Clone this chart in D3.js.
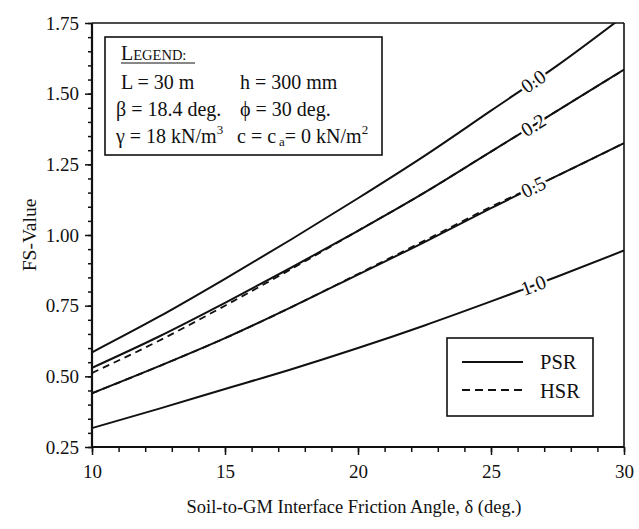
<!DOCTYPE html>
<html>
<head>
<meta charset="utf-8">
<script src="https://cdn.jsdelivr.net/npm/d3@7"></script>
<style>
  body { margin: 0; background: #fff; }
  svg { display: block; font-family: "Liberation Serif", "Times New Roman", serif; }
</style>
</head>
<body>
<svg id="chart" width="639" height="529"></svg>
<script>
// friction angle delta (deg.)
var angles = [10, 12.5, 15, 17.5, 20, 22.5, 25, 27.5, 30];

// FS values, PSR (solid), one curve per label
var psr00 = [0.585, 0.71, 0.845, 0.985, 1.13, 1.28, 1.44, 1.6, 1.775];
var psr02 = [0.53, 0.64, 0.76, 0.885, 1.015, 1.15, 1.295, 1.44, 1.585];
var psr05 = [0.44, 0.535, 0.635, 0.745, 0.86, 0.975, 1.095, 1.21, 1.325];
var psr10 = [0.317, 0.385, 0.455, 0.525, 0.6, 0.68, 0.765, 0.853, 0.945];

// HSR (dashed), only visible where it leaves the PSR line
var hsr02 = [0.512, 0.625, 0.75, 0.88, 1.015, 1.15, 1.295, 1.44, 1.585];
var hsr05 = [0.44, 0.535, 0.635, 0.745, 0.862, 0.98, 1.1, 1.21, 1.325];

var curveLabels = ["0.0", "0.2", "0.5", "1.0"];
var labelAt = 26.6;

var xTicks = [10, 15, 20, 25, 30];
var yTicks = [0.25, 0.50, 0.75, 1.00, 1.25, 1.50, 1.75];

var margin = {top: 23, right: 15, bottom: 82, left: 92};
var W = 639, H = 529;
var w = W - margin.left - margin.right;
var h = H - margin.top - margin.bottom;

var svg = d3.select("#chart");
var g = svg.append("g").attr("transform", "translate(" + margin.left + "," + margin.top + ")");

var x = d3.scaleLinear().domain([10, 30]).range([0, w]);
var y = d3.scaleLinear().domain([0.25, 1.75]).range([h, 0]);

svg.append("defs").append("clipPath").attr("id", "plotclip")
  .append("rect").attr("x", 0).attr("y", 0).attr("width", w).attr("height", h);

// axes
var xMinor = d3.axisBottom(x).tickValues(d3.range(10, 31, 1)).tickSize(5).tickFormat("");
var xMajor = d3.axisBottom(x).tickValues(xTicks).tickSize(8).tickPadding(10).tickFormat(d3.format("d"));
var yMinor = d3.axisLeft(y).tickValues(d3.range(0.25, 1.76, 0.05)).tickSize(4).tickFormat("");
var yMajor = d3.axisLeft(y).tickValues(yTicks).tickSize(7).tickPadding(6).tickFormat(d3.format(".2f"));

[xMinor, xMajor].forEach(function(a){
  g.append("g").attr("class", "axis").attr("transform", "translate(0," + h + ")").call(a);
});
[yMinor, yMajor].forEach(function(a){
  g.append("g").attr("class", "axis").call(a);
});

g.selectAll(".axis .domain").remove();
g.selectAll(".axis line").attr("stroke", "#111").attr("stroke-width", 1.5);
g.selectAll(".axis text").attr("fill", "#111").attr("font-size", 19)
  .attr("font-family", "Liberation Serif, serif");

// frame
g.append("line").attr("x1", 0).attr("x2", 0).attr("y1", 0).attr("y2", h)
  .attr("stroke", "#111").attr("stroke-width", 2.2);
g.append("line").attr("x1", 0).attr("x2", w).attr("y1", h).attr("y2", h)
  .attr("stroke", "#111").attr("stroke-width", 2.2);
g.append("line").attr("x1", w).attr("x2", w).attr("y1", 0).attr("y2", h)
  .attr("stroke", "#111").attr("stroke-width", 1.6);
g.append("line").attr("x1", 0).attr("x2", w).attr("y1", 0).attr("y2", 0)
  .attr("stroke", "#111").attr("stroke-width", 1.6);

// curves
var line = d3.line()
  .x(function(d){ return x(d[0]); })
  .y(function(d){ return y(d[1]); })
  .curve(d3.curveMonotoneX);

function pts(vals){ return angles.map(function(a, i){ return [a, vals[i]]; }); }

var plot = g.append("g").attr("clip-path", "url(#plotclip)");

[hsr02, hsr05].forEach(function(s){
  plot.append("path").datum(pts(s)).attr("d", line)
    .attr("fill", "none").attr("stroke", "#111").attr("stroke-width", 1.8)
    .attr("stroke-dasharray", "7,5");
});

var psr = [psr00, psr02, psr05, psr10];
psr.forEach(function(s){
  plot.append("path").datum(pts(s)).attr("d", line)
    .attr("fill", "none").attr("stroke", "#111").attr("stroke-width", 2);
});

// curve labels along the lines
psr.forEach(function(s, i){
  var v = d3.scaleLinear().domain(angles).range(s);
  var px = x(labelAt), py = y(v(labelAt));
  var dy = y(v(labelAt + 0.5)) - y(v(labelAt - 0.5));
  var dx = x(labelAt + 0.5) - x(labelAt - 0.5);
  var ang = Math.atan2(dy, dx) * 180 / Math.PI;
  g.append("text")
    .attr("transform", "translate(" + px + "," + py + ") rotate(" + ang + ")")
    .attr("text-anchor", "middle").attr("dy", "0.32em")
    .attr("font-size", 20).attr("fill", "#111")
    .attr("stroke", "#fff").attr("stroke-width", 5).attr("paint-order", "stroke")
    .text(curveLabels[i]);
});

// axis titles
svg.append("text").attr("x", margin.left + w / 2 - 4).attr("y", 513)
  .attr("text-anchor", "middle").attr("font-size", 18.5).attr("fill", "#111")
  .text("Soil-to-GM Interface Friction Angle, δ (deg.)");
svg.append("text").attr("transform", "translate(36," + (margin.top + h / 2) + ") rotate(-90)")
  .attr("text-anchor", "middle").attr("font-size", 19.5).attr("fill", "#111")
  .text("FS-Value");

// parameter legend box
var lb = svg.append("g");
lb.append("rect").attr("x", 105).attr("y", 37).attr("width", 277).attr("height", 118)
  .attr("fill", "#fff").attr("stroke", "#111").attr("stroke-width", 1.6);
var lt = lb.append("text").attr("x", 121).attr("y", 60).attr("font-size", 20).attr("fill", "#111");
lt.append("tspan").text("L");
lt.append("tspan").attr("font-size", 14.5).text("EGEND:");
lb.append("line").attr("x1", 121).attr("x2", 195).attr("y1", 63).attr("y2", 63)
  .attr("stroke", "#111").attr("stroke-width", 1);

var rows = [
  {y: 89, a: "L = 30 m", b: "h = 300 mm"},
  {y: 116, a: "β = 18.4 deg.", b: "ϕ = 30 deg."}
];
rows.forEach(function(r, i){
  lb.append("text").attr("x", i ? 116 : 121).attr("y", r.y).attr("font-size", 20).attr("fill", "#111").text(r.a);
  lb.append("text").attr("x", 240).attr("y", r.y).attr("font-size", 20).attr("fill", "#111").text(r.b);
});
var t1 = lb.append("text").attr("x", 116).attr("y", 143).attr("font-size", 20).attr("fill", "#111");
t1.append("tspan").text("γ = 18 kN/m");
t1.append("tspan").attr("font-size", 13).attr("dy", -9).text("3");
var t2 = lb.append("text").attr("x", 237).attr("y", 143).attr("font-size", 20).attr("fill", "#111");
t2.append("tspan").text("c = c");
t2.append("tspan").attr("font-size", 13).attr("dy", 3).attr("dx", 3).text("a");
t2.append("tspan").attr("dy", -3).text("= 0 kN/m");
t2.append("tspan").attr("font-size", 13).attr("dy", -9).text("2");

// line style legend
var sl = svg.append("g");
sl.append("rect").attr("x", 447).attr("y", 338).attr("width", 146).attr("height", 78)
  .attr("fill", "#fff").attr("stroke", "#111").attr("stroke-width", 1.6);
sl.append("line").attr("x1", 462).attr("x2", 523).attr("y1", 362).attr("y2", 362)
  .attr("stroke", "#111").attr("stroke-width", 2);
sl.append("line").attr("x1", 462).attr("x2", 523).attr("y1", 390).attr("y2", 390)
  .attr("stroke", "#111").attr("stroke-width", 2).attr("stroke-dasharray", "8,5");
sl.append("text").attr("x", 540).attr("y", 369).attr("font-size", 20.5).attr("fill", "#111").text("PSR");
sl.append("text").attr("x", 540).attr("y", 398).attr("font-size", 20.5).attr("fill", "#111").text("HSR");
</script>
</body>
</html>
